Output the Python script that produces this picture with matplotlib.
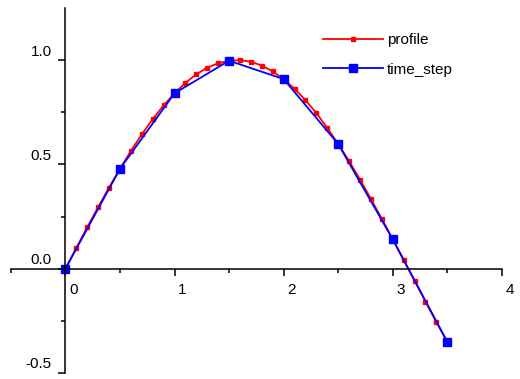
import matplotlib
matplotlib.use("Agg")
import matplotlib.pyplot as plt
import matplotlib.transforms as mtransforms

plt.rcParams["font.family"] = ["Liberation Sans", "DejaVu Sans"]

# profile values, one every 0.1
profile_x = [0.0, 0.1, 0.2, 0.3, 0.4, 0.5, 0.6, 0.7, 0.8, 0.9,
             1.0, 1.1, 1.2, 1.3, 1.4, 1.5, 1.6, 1.7, 1.8, 1.9,
             2.0, 2.1, 2.2, 2.3, 2.4, 2.5, 2.6, 2.7, 2.8, 2.9,
             3.0, 3.1, 3.2, 3.3, 3.4, 3.5]
profile_y = [0.0, 0.100, 0.199, 0.296, 0.389, 0.479, 0.565, 0.644, 0.717, 0.783,
             0.841, 0.891, 0.932, 0.964, 0.985, 0.997, 1.000, 0.992, 0.974, 0.946,
             0.909, 0.863, 0.808, 0.746, 0.675, 0.598, 0.516, 0.427, 0.335, 0.239,
             0.141, 0.042, -0.058, -0.158, -0.256, -0.351]

# coarse time steps
step_x = [0.0, 0.5, 1.0, 1.5, 2.0, 2.5, 3.0, 3.5]
step_y = [0.0, 0.479, 0.841, 0.997, 0.909, 0.598, 0.141, -0.351]

xticks = [0, 1, 2, 3, 4]
yticks = [-0.5, 0.0, 0.5, 1.0]

fig = plt.figure(figsize=(5.2, 3.79), dpi=100)
ax = fig.add_axes([0.021, 0.016, 0.944, 0.963])

ax.plot(profile_x, profile_y, color="#ff0000", lw=1.3, marker="s", ms=2.8,
        label="profile")
ax.plot(step_x, step_y, color="#0000ff", lw=1.3, marker="s", ms=6,
        label="time_step")

ax.set_xlim(-0.5, 4)
ax.set_ylim(-0.5, 1.25)

ax.spines["left"].set_position(("data", 0))
ax.spines["bottom"].set_position(("data", 0))
ax.spines["top"].set_visible(False)
ax.spines["right"].set_visible(False)
for s in ("left", "bottom"):
    ax.spines[s].set_linewidth(1.1)

ax.set_xticks(xticks)
ax.set_xticklabels([str(t) for t in xticks])
ax.set_xticks([-0.5, 0.5, 1.5, 2.5, 3.5], minor=True)
ax.set_yticks(yticks)
ax.set_yticklabels(["%.1f" % t for t in yticks])
ax.set_yticks([-0.25, 0.25, 0.75], minor=True)

ax.tick_params(which="major", direction="out", length=5, width=1.1,
               labelsize=11, pad=5)
ax.tick_params(which="minor", direction="out", length=3, width=1.1)

# labels sit a bit off the ticks, like the original
dx = mtransforms.ScaledTranslation(8 / 100, 0, fig.dpi_scale_trans)
dy = mtransforms.ScaledTranslation(0, 10 / 100, fig.dpi_scale_trans)
for lab in ax.get_xticklabels():
    lab.set_transform(lab.get_transform() + dx)
for lab in ax.get_yticklabels():
    lab.set_transform(lab.get_transform() + dy)

ax.legend(loc="upper left", bbox_to_anchor=(0.621, 0.912),
          bbox_transform=fig.transFigure, frameon=False, fontsize=11,
          handlelength=3.9, handletextpad=0.3, labelspacing=1.0,
          borderpad=0, borderaxespad=0, numpoints=1)

fig.savefig("out.png", dpi=100)
